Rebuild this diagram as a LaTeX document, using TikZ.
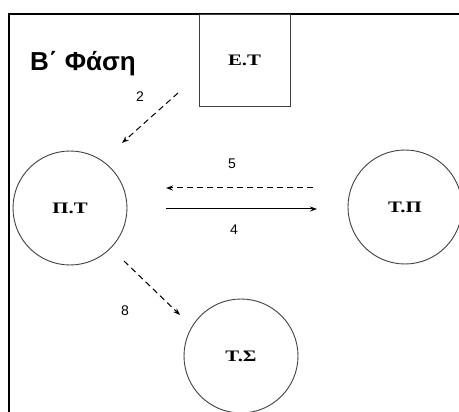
\documentclass[tikz,border=0pt]{standalone}
\usepackage{fontspec}
\setmainfont{Liberation Serif}
\newfontfamily\arialf{Liberation Sans}
\newfontfamily\lblf[FakeStretch=1.3]{Liberation Serif Bold}
\usetikzlibrary{arrows.meta}
\tikzset{
  circ/.style={circle, draw=black!75, line width=0.9pt, minimum size=114pt, inner sep=0pt, font=\lblf\fontsize{16}{16}\selectfont},
  boxn/.style={rectangle, draw=black!75, line width=0.9pt, minimum width=91pt, minimum height=92pt, inner sep=0pt, font=\lblf\fontsize{16}{16}\selectfont},
  arr/.style={line width=1pt, -{Stealth[length=7pt,width=5pt]}},
  dsh/.style={arr, dash pattern=on 6pt off 4pt},
  num/.style={font=\arialf\fontsize{14}{14}\selectfont, inner sep=0pt},
  frame/.style={line width=2pt, black}
}
\begin{document}
\begin{tikzpicture}[x=1pt, y=-1pt]
\useasboundingbox (0,0) rectangle (459,412);
\draw[frame] (459,14) -- (9,14) -- (9,413);
\node[anchor=base west, inner sep=0pt, font=\arialf\bfseries\fontsize{26}{26}\selectfont] (title) at (30,71) {Β΄ Φάση};
\node[boxn] (et) at (244.5,60) {Ε.Τ};
\node[circ] (pt) at (70,208) {Π.Τ};
\node[circ] (tp) at (405,207) {Τ.Π};
\node[circ] (ts) at (241,356) {Τ.Σ};
\coordinate (a2s) at (178,93);
\coordinate (a2e) at (122,143);
\coordinate (a5s) at (313,188);
\coordinate (a5e) at (166,188);
\coordinate (a4s) at (166,209);
\coordinate (a4e) at (317,209);
\coordinate (a8s) at (124,261);
\coordinate (a8e) at (180,315);
\draw[dsh] (a2s) -- (a2e);
\draw[dsh] (a5s) -- (a5e);
\draw[arr] (a4s) -- (a4e);
\draw[dsh] (a8s) -- (a8e);
\node[num] (n2) at (140,97) {2};
\node[num] (n5) at (232,164) {5};
\node[num] (n4) at (234,230) {4};
\node[num] (n8) at (125,311) {8};
\end{tikzpicture}
\end{document}
